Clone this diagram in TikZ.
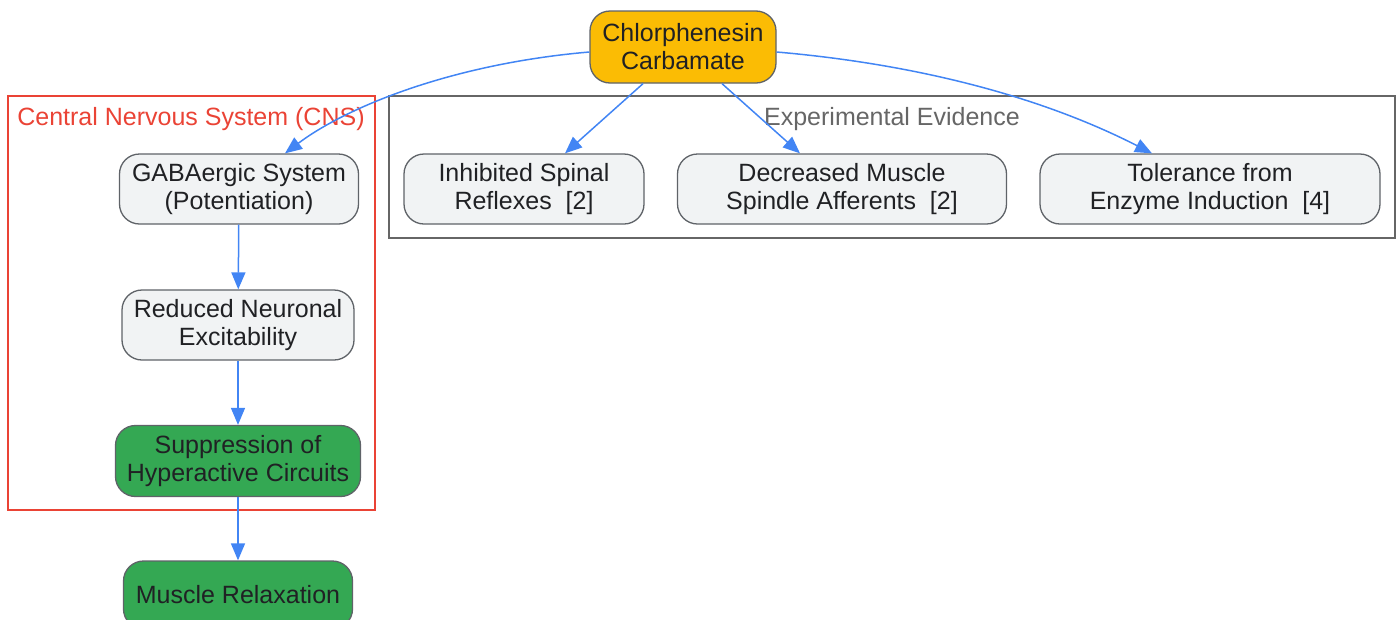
\documentclass[tikz,border=0pt]{standalone}
\usepackage{fontspec}
\setmainfont{Liberation Sans}
\usetikzlibrary{arrows.meta}
\definecolor{ink}{HTML}{202124}
\definecolor{boxline}{HTML}{5F6368}
\definecolor{boxfill}{HTML}{F1F3F4}
\definecolor{drugfill}{HTML}{FBBC04}
\definecolor{okfill}{HTML}{34A853}
\definecolor{cnsred}{HTML}{EA4335}
\definecolor{evgray}{HTML}{666666}
\definecolor{link}{HTML}{4285F4}
\tikzset{
  box/.style={draw=boxline, line width=1.3pt, fill=boxfill, rounded corners=20pt,
    align=center, inner sep=0pt, text=ink},
  drug/.style={box, fill=drugfill},
  effect/.style={box, fill=okfill},
  link/.style={draw=link, line width=1.5pt, ->},
  cluster/.style={line width=1.5pt}
}
\begin{document}
\begin{tikzpicture}[x=1pt, y=-1pt, >={Triangle[length=17pt,width=14pt]},
  font=\fontsize{25}{28}\selectfont]
  \clip (0,0) rectangle (1399,619);
  \useasboundingbox (0,0) rectangle (1399,619);
  % groups
  \draw[cluster, cnsred] (8,96) rectangle (375,510);
  \node[text=cnsred] (cnslbl) at (191,119) {Central Nervous System (CNS)};
  \draw[cluster, evgray] (389,96) rectangle (1395,238);
  \node[text=evgray] (evlbl) at (892,119) {Experimental Evidence};
  % nodes
  \node[drug, minimum width=186pt, minimum height=72pt] (chl) at (683,47) {Chlorphenesin\\Carbamate};
  \node[box, minimum width=239pt, minimum height=70pt] (gaba) at (239,189) {GABAergic System\\(Potentiation)};
  \node[box, minimum width=232pt, minimum height=70pt] (rne) at (238,325) {Reduced Neuronal\\Excitability};
  \node[effect, minimum width=245pt, minimum height=71pt] (shc) at (238,461) {Suppression of\\Hyperactive Circuits};
  \node[effect, minimum width=229pt, minimum height=68pt] (mr) at (238,595) {Muscle Relaxation};
  \node[box, minimum width=240pt, minimum height=70pt] (isr) at (524,189) {Inhibited Spinal\\Reflexes\ \ [2]};
  \node[box, minimum width=329pt, minimum height=70pt] (dms) at (842,189) {Decreased Muscle\\Spindle Afferents\ \ [2]};
  \node[box, minimum width=340pt, minimum height=70pt] (tei) at (1210,189) {Tolerance from\\Enzyme Induction\ \ [4]};
  % links
  \draw[link] ([yshift=-5pt]chl.west) .. controls (450,64) and (345,108) .. ([xshift=46pt]gaba.north);
  \draw[link] ([yshift=-5pt]chl.east) .. controls (915,64) and (1040,96) .. ([xshift=-58pt]tei.north);
  \draw[link] ([xshift=-40pt]chl.south) -- ([xshift=41pt]isr.north);
  \draw[link] ([xshift=39pt]chl.south) -- ([xshift=-42pt]dms.north);
  \draw[link] (gaba) -- (rne);
  \draw[link] (rne) -- (shc);
  \draw[link] (shc) -- (mr);
\end{tikzpicture}
\end{document}
